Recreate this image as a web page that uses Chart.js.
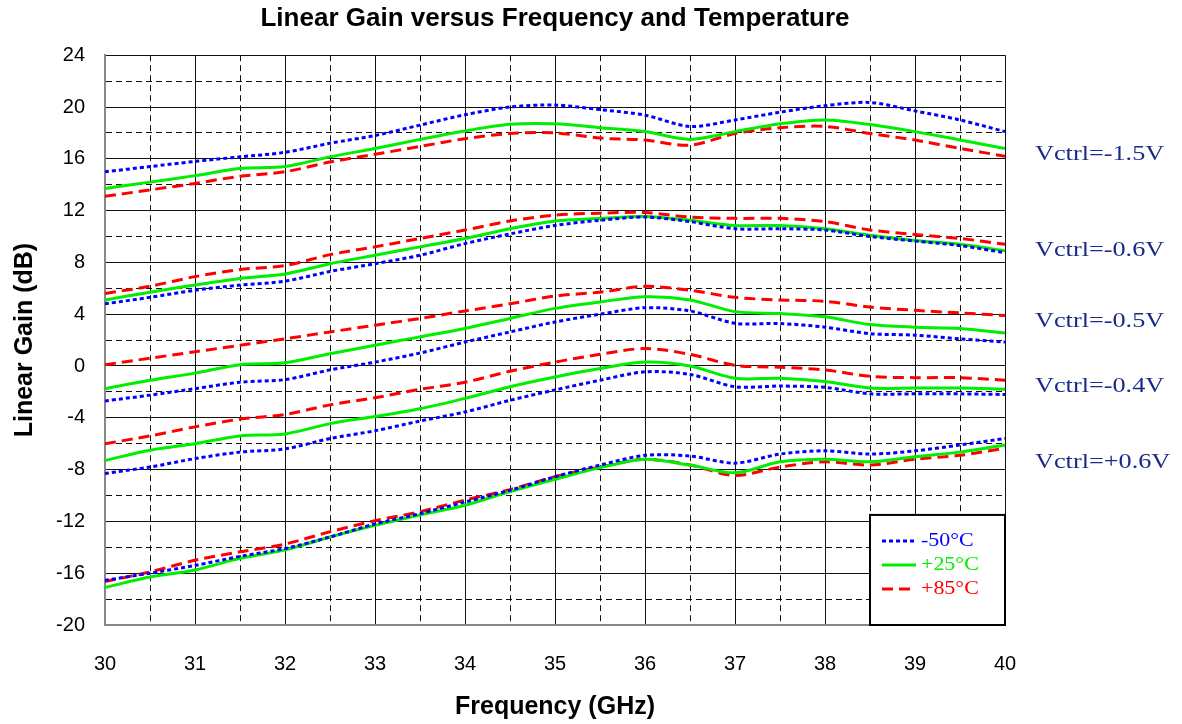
<!DOCTYPE html>
<html>
<head>
<meta charset="utf-8">
<script src="https://cdn.jsdelivr.net/npm/chart.js@4.4.0/dist/chart.umd.min.js"></script>
<style>
    html, body { margin: 0; padding: 0; background: #fff; }
</style>
</head>
<body>
<canvas id="chart-gain" width="1182" height="724"></canvas>
<script>
const freq = [30, 30.5, 31, 31.5, 32, 32.5, 33, 33.5, 34, 34.5, 35, 35.5, 36, 36.5, 37, 37.5, 38, 38.5, 39, 39.5, 40];

const temps = ['-50°C', '+25°C', '+85°C'];
const vctrl = ['Vctrl=-1.5V', 'Vctrl=-0.6V', 'Vctrl=-0.5V', 'Vctrl=-0.4V', 'Vctrl=+0.6V'];
// where each Vctrl label sits (dB)
const vctrlLabelGain = [16.3, 8.95, 3.4, -1.6, -7.45];

// Vctrl=-1.5V
const m15_cold = [15.0, 15.4, 15.8, 16.15, 16.5, 17.2, 17.8, 18.6, 19.4, 20.0, 20.15, 19.8, 19.37, 18.5, 19.0, 19.6, 20.1, 20.35, 19.7, 19.0, 18.1];
const m15_room = [13.7, 14.2, 14.7, 15.25, 15.4, 16.15, 16.8, 17.5, 18.15, 18.67, 18.7, 18.4, 18.1, 17.5, 18.1, 18.7, 19.0, 18.65, 18.1, 17.45, 16.8];
const m15_hot = [13.1, 13.6, 14.1, 14.65, 15.0, 15.75, 16.35, 16.95, 17.55, 17.95, 18.0, 17.6, 17.45, 17.05, 17.95, 18.4, 18.5, 17.95, 17.45, 16.8, 16.2];

// Vctrl=-0.6V
const m06_cold = [4.8, 5.3, 5.85, 6.25, 6.55, 7.3, 7.9, 8.55, 9.45, 10.2, 10.85, 11.25, 11.5, 11.15, 10.6, 10.6, 10.5, 10.0, 9.65, 9.3, 8.75];
const m06_room = [5.1, 5.7, 6.25, 6.75, 7.1, 7.9, 8.55, 9.2, 9.85, 10.6, 11.2, 11.4, 11.55, 11.25, 10.85, 10.85, 10.6, 10.1, 9.7, 9.4, 8.9];
const m06_hot = [5.6, 6.16, 6.9, 7.45, 7.75, 8.6, 9.2, 9.85, 10.5, 11.2, 11.65, 11.8, 11.85, 11.5, 11.4, 11.4, 11.15, 10.5, 10.15, 9.85, 9.4];

// Vctrl=-0.5V
const m05_cold = [-2.7, -2.25, -1.75, -1.25, -1.05, -0.3, 0.3, 1.0, 1.85, 2.63, 3.4, 4.0, 4.5, 4.25, 3.3, 3.28, 3.0, 2.5, 2.38, 2.1, 1.85];
const m05_room = [-1.75, -1.1, -0.55, 0.1, 0.25, 0.95, 1.6, 2.25, 2.9, 3.67, 4.45, 4.95, 5.35, 5.1, 4.2, 4.05, 3.8, 3.2, 3.0, 2.9, 2.55];
const m05_hot = [0.1, 0.6, 1.1, 1.6, 2.1, 2.63, 3.15, 3.67, 4.25, 4.8, 5.4, 5.7, 6.15, 5.85, 5.3, 5.1, 5.0, 4.55, 4.3, 4.1, 3.9];

// Vctrl=-0.4V
const m04_cold = [-8.3, -7.8, -7.15, -6.65, -6.4, -5.6, -5.0, -4.25, -3.55, -2.65, -1.85, -1.1, -0.45, -0.65, -1.6, -1.55, -1.65, -2.15, -2.15, -2.15, -2.2];
const m04_room = [-7.3, -6.5, -6.0, -5.4, -5.25, -4.45, -3.9, -3.3, -2.5, -1.6, -0.85, -0.2, 0.3, 0.0, -0.95, -0.95, -1.2, -1.7, -1.7, -1.7, -1.8];
const m04_hot = [-6.0, -5.4, -4.7, -4.1, -3.75, -3.0, -2.45, -1.8, -1.25, -0.4, 0.3, 0.9, 1.35, 0.9, 0.05, -0.1, -0.3, -0.8, -0.9, -0.9, -1.1];

// Vctrl=+0.6V
const p06_cold = [-16.55, -16.0, -15.4, -14.7, -14.1, -13.2, -12.2, -11.4, -10.5, -9.6, -8.55, -7.65, -6.9, -6.95, -7.5, -6.8, -6.55, -6.8, -6.55, -6.1, -5.6];
const p06_room = [-17.1, -16.3, -15.75, -14.85, -14.2, -13.2, -12.3, -11.5, -10.75, -9.7, -8.75, -7.85, -7.2, -7.65, -8.25, -7.4, -7.2, -7.4, -7.0, -6.65, -6.1];
const p06_hot = [-16.65, -15.9, -15.0, -14.35, -13.75, -12.8, -11.95, -11.25, -10.35, -9.55, -8.55, -7.8, -7.2, -7.65, -8.45, -7.8, -7.4, -7.65, -7.2, -6.9, -6.35];

const groups = [
    [m15_cold, m15_room, m15_hot],
    [m06_cold, m06_room, m06_hot],
    [m05_cold, m05_room, m05_hot],
    [m04_cold, m04_room, m04_hot],
    [p06_cold, p06_room, p06_hot]
];

const tempColor = ['#0000ff', '#00ee00', '#ff0000'];
const tempDash = [[4, 3], [], [11, 6]];

const datasets = [];
groups.forEach(function (group, g) {
    group.forEach(function (vals, t) {
        datasets.push({
            label: temps[t] + ' ' + vctrl[g],
            data: vals.map(function (v, i) { return {x: freq[i], y: v}; }),
            borderColor: tempColor[t],
            borderDash: tempDash[t],
            borderWidth: 3,
            pointRadius: 0,
            tension: 0.3,
            fill: false
        });
    });
});

const sansFont = 'Arial, "Liberation Sans", sans-serif';
const serifFont = '"Times New Roman", "Liberation Serif", serif';

// legend box + Vctrl labels
const extrasPlugin = {
    id: 'extras',
    afterDraw: function (chart) {
        const c = chart.ctx;
        const xs = chart.scales.x;
        const ys = chart.scales.y;
        const area = chart.chartArea;

        c.save();
        c.font = '21px ' + serifFont;
        c.fillStyle = '#1a2a88';
        c.textBaseline = 'middle';
        c.textAlign = 'left';
        vctrl.forEach(function (lbl, i) {
            const y = ys.getPixelForValue(vctrlLabelGain[i]);
            c.save();
            c.translate(area.right + 30, y);
            c.scale(1.25, 1);
            c.fillText(lbl, 0, 0);
            c.restore();
        });

        const bx = xs.getPixelForValue(38.5);
        const by = ys.getPixelForValue(-11.5);
        c.fillStyle = '#fff';
        c.fillRect(bx, by, area.right - bx, area.bottom - by);
        c.strokeStyle = '#000';
        c.lineWidth = 2;
        c.strokeRect(bx, by, area.right - bx, area.bottom - by);

        c.font = '18px ' + serifFont;
        temps.forEach(function (lbl, t) {
            const ly = by + 26 + t * 24;
            c.strokeStyle = tempColor[t];
            c.lineWidth = 3;
            c.setLineDash(tempDash[t]);
            c.beginPath();
            c.moveTo(bx + 12, ly);
            c.lineTo(bx + 46, ly);
            c.stroke();
            c.setLineDash([]);
            c.fillStyle = tempColor[t];
            c.save();
            c.translate(bx + 51, ly);
            c.scale(1.22, 1);
            c.fillText(lbl, 0, 0);
            c.restore();
        });
        c.restore();
    }
};

const ctx = document.getElementById('chart-gain');

new Chart(ctx, {
    type: 'line',
    data: { datasets: datasets },
    plugins: [extrasPlugin],
    options: {
        responsive: false,
        animation: false,
        layout: { padding: { left: 0, right: 177, top: 0, bottom: 0 } },
        plugins: {
            legend: { display: false },
            tooltip: { enabled: false },
            title: {
                display: true,
                text: 'Linear Gain versus Frequency and Temperature',
                fullSize: false,
                color: '#000',
                font: { family: sansFont, size: 26, weight: 'bold' },
                padding: { top: 3, bottom: 21 }
            }
        },
        scales: {
            x: {
                type: 'linear',
                min: 30,
                max: 40,
                afterFit: function (scale) { scale.height = 99; },
                ticks: {
                    stepSize: 0.5,
                    autoSkip: false,
                    maxRotation: 0,
                    padding: 27,
                    color: '#000',
                    font: { family: sansFont, size: 20 },
                    callback: function (v) { return Number.isInteger(v) ? v : ''; }
                },
                grid: { color: '#111', lineWidth: 1, drawTicks: false },
                border: {
                    color: '#888',
                    width: 2,
                    dash: function (c) { return (c.tick && !Number.isInteger(c.tick.value)) ? [6, 4] : []; }
                },
                title: {
                    display: true,
                    text: 'Frequency (GHz)',
                    color: '#000',
                    font: { family: sansFont, size: 25, weight: 'bold' },
                    padding: { top: 0, bottom: 2 }
                }
            },
            y: {
                min: -20,
                max: 24,
                afterFit: function (scale) { scale.width = 105; },
                ticks: {
                    stepSize: 2,
                    autoSkip: false,
                    padding: 20,
                    color: '#000',
                    font: { family: sansFont, size: 20 },
                    callback: function (v) { return v % 4 === 0 ? v : ''; }
                },
                grid: { color: '#111', lineWidth: 1, drawTicks: false },
                border: {
                    color: '#888',
                    width: 2,
                    dash: function (c) { return (c.tick && c.tick.value % 4 !== 0) ? [6, 4] : []; }
                },
                title: {
                    display: true,
                    text: 'Linear Gain (dB)',
                    color: '#000',
                    font: { family: sansFont, size: 25, weight: 'bold' },
                    padding: { top: 10, bottom: 0 }
                }
            }
        }
    }
});
</script>
</body>
</html>
